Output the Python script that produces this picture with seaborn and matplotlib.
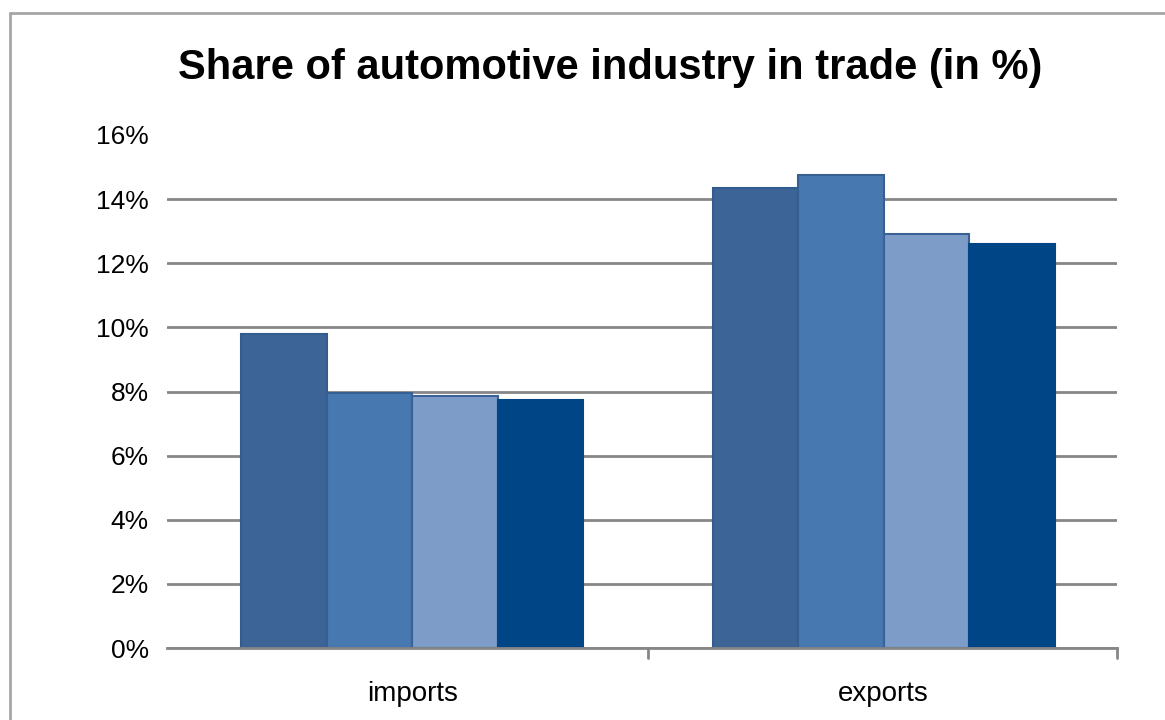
import matplotlib
matplotlib.use("Agg")
import matplotlib.pyplot as plt
from matplotlib.lines import Line2D
from matplotlib.ticker import FixedLocator, FuncFormatter
import seaborn as sns
import pandas as pd

# Trade flows and the share of the automotive industry (%) for four periods
categories = ["imports", "exports"]
series_names = ["Series 1", "Series 2", "Series 3", "Series 4"]
imports_share = [9.8, 7.95, 7.85, 7.75]
exports_share = [14.35, 14.75, 12.9, 12.6]
y_ticks = [0, 2, 4, 6, 8, 10, 12, 14, 16]

bar_colors = ["#3D6496", "#4878B0", "#7E9CC8", "#004586"]
edge_colors = ["#335C8E", "#365F92", "#3A6296", "#004586"]

rows = []
for s, imp, exp in zip(series_names, imports_share, exports_share):
    rows.append({"flow": categories[0], "series": s, "share": imp})
    rows.append({"flow": categories[1], "series": s, "share": exp})
df = pd.DataFrame(rows)

sns.set_theme(style="white")
plt.rcParams["font.family"] = ["Liberation Sans", "DejaVu Sans"]

fig = plt.figure(figsize=(11.65, 7.2), dpi=100)
ax = fig.add_axes([167 / 1165, 1 - 648 / 720, 950 / 1165, (648 - 135) / 720])

sns.barplot(data=df, x="flow", y="share", hue="series", order=categories,
            hue_order=series_names, palette=bar_colors, width=0.725,
            legend=False, ax=ax, saturation=1, zorder=3)

# outline each series with its own edge colour
for container, ec in zip(ax.containers, edge_colors):
    for patch in container:
        patch.set_edgecolor(ec)
        patch.set_linewidth(1.5)

ax.set_ylim(0, 16)
ax.set_xlim(-0.52, 1.495)
ax.yaxis.set_major_locator(FixedLocator(y_ticks))
ax.yaxis.set_major_formatter(FuncFormatter(lambda v, p: f"{v:.0f}%"))

ax.yaxis.grid(True, color="#868686", linewidth=2, zorder=0)
ax.set_axisbelow(True)
ax.get_ygridlines()[-1].set_visible(False)

for side in ["left", "right", "top"]:
    ax.spines[side].set_visible(False)
ax.spines["bottom"].set_color("#868686")
ax.spines["bottom"].set_linewidth(2)
ax.spines["bottom"].set_zorder(4)

ax.set_xlabel("")
ax.set_ylabel("")
ax.tick_params(axis="y", length=0, pad=13, labelsize=19, labelcolor="black")
ax.tick_params(axis="x", length=0, pad=24, labelsize=20, labelcolor="black")

# category separator ticks on the x axis
for xpos in [0.5, 1.495]:
    ax.plot([xpos, xpos], [0, -0.3], color="#868686", linewidth=2,
            clip_on=False, zorder=4)

fig.text(610 / 1165, 1 - 68 / 720, "Share of automotive industry in trade (in %)",
         ha="center", va="center", fontsize=30, fontweight="bold", color="black")

# chart area frame
fig.add_artist(Line2D([10 / 1165, 10 / 1165], [0, 1 - 13 / 720],
                      color="#A6A6A6", linewidth=2, transform=fig.transFigure))
fig.add_artist(Line2D([10 / 1165, 1], [1 - 13 / 720, 1 - 13 / 720],
                      color="#A6A6A6", linewidth=2, transform=fig.transFigure))

fig.savefig("out.png", dpi=100, facecolor="white")
